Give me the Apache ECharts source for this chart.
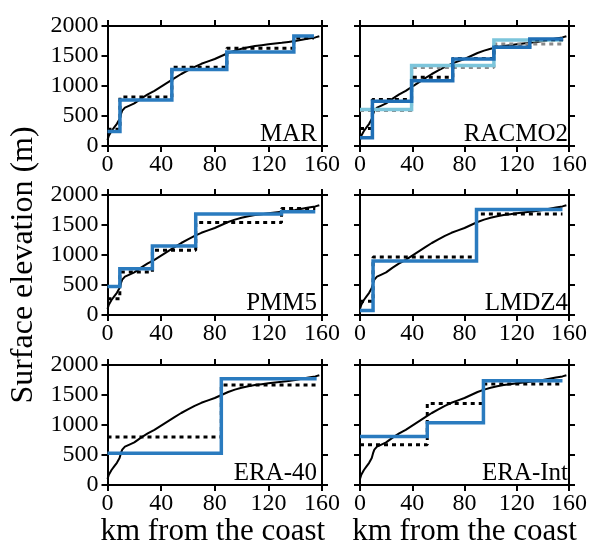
<!DOCTYPE html>
<html>
<head>
<meta charset="utf-8">
<script src="https://cdn.jsdelivr.net/npm/echarts@6/dist/echarts.min.js"></script>
<style>
  html, body { margin: 0; padding: 0; background: #ffffff; }
  #chart { width: 590px; height: 546px; }
</style>
</head>
<body>
<div id="chart"></div>
<script>
// Axis ranges and ticks
const kmTicks = [0, 40, 80, 120, 160];
const elevTicks = [0, 500, 1000, 1500, 2000];

// Observed surface elevation along the transect (km from the coast, m)
const profileKm = [0, 1, 3, 5, 7, 9, 10, 11, 13, 16, 20, 25, 30, 35, 40, 45, 50, 55, 60, 65,
  70, 75, 80, 85, 90, 95, 100, 105, 110, 115, 120, 125, 130, 135, 140, 145, 150, 155, 158];
const profileElev = [100, 170, 250, 310, 370, 450, 530, 590, 640, 670, 710, 790, 860, 920, 990, 1060, 1130, 1200, 1260, 1320,
  1370, 1410, 1450, 1500, 1550, 1590, 1620, 1645, 1665, 1680, 1695, 1710, 1720, 1735, 1750, 1770, 1790, 1810, 1830];

// Model grid-cell edges (km) and elevations (m): model topography and observed cell means
const marEdges = [0, 9.3, 48, 89, 139, 154];
const marModel = [240, 765, 1273, 1565, 1835];
const marObsMean = [280, 815, 1311, 1631, 1800];

const racmoEdges = [0, 9.5, 39.5, 71, 102.5, 130, 155.5];
const racmoModel = [138, 746, 1088, 1448, 1646, 1785];
const racmoObsMean = [290, 775, 1144, 1460, 1650, 1770];
const racmoCoarseEdges = [0, 39.5, 102.5, 155.5];
const racmoCoarseModel = [608, 1343, 1765];
const racmoCoarseObsMean = [590, 1309, 1702];

const pmmEdges = [0, 9.2, 33.5, 65.8, 129.8, 155];
const pmmModel = [475, 771, 1151, 1682, 1721];
const pmmObsMean = [270, 715, 1078, 1542, 1777];

const lmdzEdges = [0, 10, 89.2, 155];
const lmdzModel = [73, 900, 1760];
const lmdzObsMean = [230, 967, 1682];

const era40Edges = [0, 84.9, 156];
const era40Model = [531, 1771];
const era40ObsMean = [799, 1665];

const eraIntEdges = [0, 51.5, 94.5, 155];
const eraIntModel = [810, 1039, 1738];
const eraIntObsMean = [670, 1358, 1682];

const panelNames = ['MAR', 'RACMO2', 'PMM5', 'LMDZ4', 'ERA-40', 'ERA-Int'];

const FONT = "'Liberation Serif', 'Times New Roman', serif";
const BLUE = '#2a7bbf';
const LIGHT_BLUE = '#7cc5db';
const GREY = '#8a8a8a';

// Step data: each level is held from its left edge to the next edge
function steps(edges, levels) {
  const d = edges.slice(0, -1).map((e, i) => [e, levels[i]]);
  d.push([edges[edges.length - 1], levels[levels.length - 1]]);
  return d;
}
const profile = profileKm.map((k, i) => [k, profileElev[i]]);

const panels = [
  { name: panelNames[0], layers: [
    { data: steps(marEdges, marObsMean), kind: 'dot', color: '#000' },
    { data: steps(marEdges, marModel), kind: 'solid', color: BLUE }] },
  { name: panelNames[1], layers: [
    { data: steps(racmoCoarseEdges, racmoCoarseObsMean), kind: 'dot', color: GREY },
    { data: steps(racmoCoarseEdges, racmoCoarseModel), kind: 'solid', color: LIGHT_BLUE },
    { data: steps(racmoEdges, racmoObsMean), kind: 'dot', color: '#000' },
    { data: steps(racmoEdges, racmoModel), kind: 'solid', color: '#1f6fb6' }] },
  { name: panelNames[2], layers: [
    { data: steps(pmmEdges, pmmObsMean), kind: 'dot', color: '#000' },
    { data: steps(pmmEdges, pmmModel), kind: 'solid', color: BLUE }] },
  { name: panelNames[3], layers: [
    { data: steps(lmdzEdges, lmdzObsMean), kind: 'dot', color: '#000' },
    { data: steps(lmdzEdges, lmdzModel), kind: 'solid', color: BLUE }] },
  { name: panelNames[4], layers: [
    { data: steps(era40Edges, era40ObsMean), kind: 'dot', color: '#000' },
    { data: steps(era40Edges, era40Model), kind: 'solid', color: BLUE }] },
  { name: panelNames[5], layers: [
    { data: steps(eraIntEdges, eraIntObsMean), kind: 'dot', color: '#000' },
    { data: steps(eraIntEdges, eraIntModel), kind: 'solid', color: BLUE }] }
];

// Panel layout
const colLeft = [107.5, 360];
const colWidth = [214.5, 213];
const rowTop = [26, 195, 365];
const rowHeight = 120;

const grids = [], xAxes = [], yAxes = [], series = [], graphics = [];

function axisBase(extra) {
  return Object.assign({
    axisLine: { show: true, onZero: false, lineStyle: { color: '#000', width: 2 } },
    axisTick: { show: true, inside: false, length: 6, lineStyle: { color: '#000', width: 2 } },
    splitLine: { show: false },
    axisLabel: { show: false }
  }, extra);
}
const plain = v => String(v);

panels.forEach((p, i) => {
  const col = i % 2, row = Math.floor(i / 2);
  grids.push({ left: colLeft[col], top: rowTop[row], width: colWidth[col], height: rowHeight });
  const xb = xAxes.length;
  xAxes.push(axisBase({ type: 'value', gridIndex: i, position: 'bottom', min: kmTicks[0], max: kmTicks[kmTicks.length - 1], interval: kmTicks[1] - kmTicks[0],
    axisLabel: { show: true, color: '#000', fontFamily: FONT, fontSize: 24, margin: 7, formatter: plain } }));
  xAxes.push(axisBase({ type: 'value', gridIndex: i, position: 'top', min: kmTicks[0], max: kmTicks[kmTicks.length - 1], interval: kmTicks[1] - kmTicks[0] }));
  const yb = yAxes.length;
  yAxes.push(axisBase({ type: 'value', gridIndex: i, position: 'left', min: elevTicks[0], max: elevTicks[elevTicks.length - 1], interval: elevTicks[1] - elevTicks[0],
    axisLabel: { show: col === 0, color: '#000', fontFamily: FONT, fontSize: 24, margin: 9, formatter: plain } }));
  yAxes.push(axisBase({ type: 'value', gridIndex: i, position: 'right', min: elevTicks[0], max: elevTicks[elevTicks.length - 1], interval: elevTicks[1] - elevTicks[0] }));

  // observed profile
  series.push({ type: 'line', xAxisIndex: xb, yAxisIndex: yb, data: profile, showSymbol: false, silent: true,
    lineStyle: { color: '#000', width: 2 }, z: 2 });
  p.layers.forEach((l, j) => {
    series.push({ type: 'line', step: 'end', xAxisIndex: xb, yAxisIndex: yb, data: l.data, showSymbol: false, silent: true,
      lineStyle: l.kind === 'dot'
        ? { color: l.color, width: 3, type: [4, 4], cap: 'butt' }
        : { color: l.color, width: 3.5, cap: 'butt', join: 'miter' },
      z: 3 + j });
  });

  // panel name at lower right inside the frame
  graphics.push({ type: 'text', x: colLeft[col] + colWidth[col] - 5, y: rowTop[row] + rowHeight - 12,
    style: { text: p.name, font: '25px ' + FONT, fill: '#000', textAlign: 'right', textVerticalAlign: 'middle' }, z: 10 });
});

// axis titles
graphics.push({ type: 'text', x: 24, y: 265, rotation: Math.PI / 2,
  style: { text: 'Surface elevation (m)', font: '32px ' + FONT, fill: '#000', textAlign: 'center', textVerticalAlign: 'middle' } });
[0, 1].forEach(col => {
  graphics.push({ type: 'text', x: colLeft[col] + colWidth[col] / 2 - 2, y: 532,
    style: { text: 'km from the coast', font: '31px ' + FONT, fill: '#000', textAlign: 'center', textVerticalAlign: 'middle' } });
});

const chart = echarts.init(document.getElementById('chart'), null, { renderer: 'canvas' });
chart.setOption({
  animation: false,
  backgroundColor: '#ffffff',
  grid: grids,
  xAxis: xAxes,
  yAxis: yAxes,
  series: series,
  graphic: graphics
});
</script>
</body>
</html>
